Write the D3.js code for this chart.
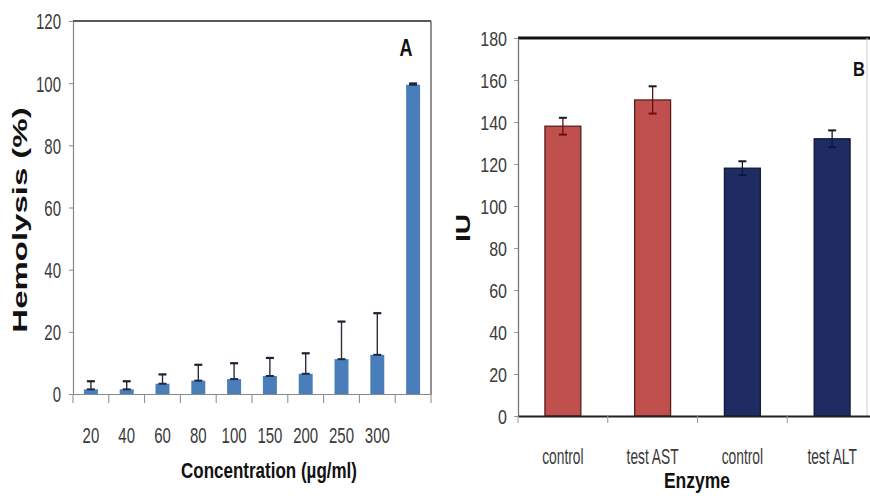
<!DOCTYPE html>
<html>
<head>
<meta charset="utf-8">
<script src="https://cdn.jsdelivr.net/npm/d3@7/dist/d3.min.js"></script>
<style>
  html, body { margin: 0; padding: 0; background: #fff; }
  svg { display: block; font-family: "Liberation Sans", Arial, sans-serif; }
</style>
</head>
<body>
<svg id="chart" width="870" height="499"></svg>
<script>
// Panel A: hemolysis vs. concentration
const concLabels = ["20", "40", "60", "80", "100", "150", "200", "250", "300", ""];
const hemolysis   = [1.5, 1.5, 3.3, 4.3, 4.8, 5.8, 6.5, 11.2, 12.6, 99.5];
const hemolysisSD = [2.6, 2.6, 3.0, 5.1, 5.1, 5.8, 6.6, 12.1, 13.4, 0.4];
const hemoTicks   = [0, 20, 40, 60, 80, 100, 120];

// Panel B: liver enzyme levels
const enzymeLabels = ["control", "test AST", "control", "test ALT"];
const enzymeGroup  = ["AST", "AST", "ALT", "ALT"];
const enzymeIU     = [138, 150.5, 118, 132];
const enzymeSD     = [4, 6.5, 3.3, 4];
const iuTicks      = [0, 20, 40, 60, 80, 100, 120, 140, 160, 180];

const svg = d3.select("#chart");

// stretched text helper: places text at (x,y), optionally rotated, scaled by sx/sy
function label(g, x, y, txt, opts) {
  const t = g.append("text")
    .attr("transform", `translate(${x},${y}) ${opts.rotate ? "rotate(-90)" : ""} scale(${opts.sx || 1},${opts.sy || 1})`)
    .attr("text-anchor", opts.anchor || "middle")
    .attr("dy", "0.35em")
    .attr("font-size", opts.size)
    .attr("font-weight", opts.bold ? "bold" : "normal")
    .attr("fill", opts.fill || "#111")
    .text(txt);
  return t;
}

/* ---------------- Panel A ---------------- */
{
  const left = 73, right = 431, top = 21, bottom = 394;
  const g = svg.append("g");
  const x = d3.scaleBand().domain(d3.range(concLabels.length)).range([left, right]).padding(0);
  const y = d3.scaleLinear().domain([0, 120]).range([bottom, top]);
  const bw = x.bandwidth() * 0.39;

  // frame
  g.append("line").attr("x1", left).attr("x2", right).attr("y1", top).attr("y2", top)
    .attr("stroke", "#222").attr("stroke-width", 1.6);
  g.append("line").attr("x1", right).attr("x2", right).attr("y1", top).attr("y2", bottom)
    .attr("stroke", "#555").attr("stroke-width", 1.3);

  // bars
  g.selectAll("rect.bar").data(hemolysis).join("rect")
    .attr("x", (d, i) => x(i) + (x.bandwidth() - bw) / 2)
    .attr("width", bw)
    .attr("y", d => y(d))
    .attr("height", d => y(0) - y(d))
    .attr("fill", "#4a7ebb");

  // error bars (upper whisker with cap, short mark at bar top)
  const eb = g.selectAll("g.err").data(hemolysis).join("g")
    .attr("transform", (d, i) => `translate(${x(i) + x.bandwidth() / 2},0)`);
  eb.append("line")
    .attr("y1", d => y(d)).attr("y2", (d, i) => y(d + hemolysisSD[i]))
    .attr("stroke", "#2a2f3a").attr("stroke-width", 1.4);
  eb.append("line")
    .attr("x1", -4).attr("x2", 4)
    .attr("y1", (d, i) => y(d + hemolysisSD[i])).attr("y2", (d, i) => y(d + hemolysisSD[i]))
    .attr("stroke", "#1c2030").attr("stroke-width", 2.2);
  eb.append("line")
    .attr("x1", -4).attr("x2", 4)
    .attr("y1", d => y(d)).attr("y2", d => y(d))
    .attr("stroke", "#1c2a4a").attr("stroke-width", 2);

  // y axis
  const ya = g.append("g").attr("transform", `translate(${left},0)`)
    .call(d3.axisLeft(y).tickValues(hemoTicks).tickSize(4).tickSizeOuter(0));
  ya.select(".domain").attr("stroke", "#888").attr("stroke-width", 1.2);
  ya.selectAll(".tick line").attr("stroke", "#888");
  ya.selectAll(".tick text")
    .attr("x", 0).attr("dy", "0.35em")
    .attr("transform", "translate(-12,0) scale(1,1.5)")
    .attr("font-size", 15).attr("fill", "#3a3a3a").attr("font-family", "Liberation Sans, Arial");

  // x axis: labels at band centres, ticks at band boundaries
  const xa = g.append("g").attr("transform", `translate(0,${bottom})`)
    .call(d3.axisBottom(x).tickFormat(i => concLabels[i]).tickSize(0).tickSizeOuter(0));
  xa.select(".domain").attr("stroke", "#888").attr("stroke-width", 1.2);
  xa.selectAll(".tick text")
    .attr("y", 0).attr("dy", "0.35em")
    .attr("transform", "translate(0,41) scale(1,1.5)")
    .attr("font-size", 15).attr("fill", "#3a3a3a").attr("font-family", "Liberation Sans, Arial");
  g.selectAll("line.xt").data(d3.range(concLabels.length + 1)).join("line")
    .attr("x1", i => i < concLabels.length ? x(i) : right)
    .attr("x2", i => i < concLabels.length ? x(i) : right)
    .attr("y1", bottom).attr("y2", bottom + 9)
    .attr("stroke", "#888").attr("stroke-width", 1);

  label(g, 269, 470, "Concentration (µg/ml)", { size: 17, bold: true, sy: 1.35 });
  label(g, 20, 220, "Hemolysis (%)", { size: 21, bold: true, rotate: true, sx: 1.57 });
  label(g, 406, 48, "A", { size: 18, bold: true, sy: 1.3 });
}

/* ---------------- Panel B ---------------- */
{
  const left = 518, right = 877, top = 38, bottom = 416;
  const g = svg.append("g");
  const x = d3.scaleBand().domain(d3.range(enzymeLabels.length)).range([left, right]).padding(0);
  const y = d3.scaleLinear().domain([0, 180]).range([bottom, top]);
  const bw = x.bandwidth() * 0.4;
  const fill = { AST: "#c0504d", ALT: "#1f2c63" };
  const edge = { AST: "#5a1e1c", ALT: "#101838" };
  const errc = { AST: "#6a0e0e", ALT: "#0c1640" };

  // frame
  g.append("line").attr("x1", left).attr("x2", 870).attr("y1", top).attr("y2", top)
    .attr("stroke", "#111").attr("stroke-width", 3);
  g.append("line").attr("x1", 867).attr("x2", 867).attr("y1", top).attr("y2", bottom)
    .attr("stroke", "#ccc").attr("stroke-width", 1);

  // bars
  g.selectAll("rect.bar").data(enzymeIU).join("rect")
    .attr("x", (d, i) => x(i) + (x.bandwidth() - bw) / 2)
    .attr("width", bw)
    .attr("y", d => y(d))
    .attr("height", d => y(0) - y(d))
    .attr("fill", (d, i) => fill[enzymeGroup[i]])
    .attr("stroke", (d, i) => edge[enzymeGroup[i]])
    .attr("stroke-width", 1.3);

  // symmetric error bars
  const eb = g.selectAll("g.err").data(enzymeIU).join("g")
    .attr("transform", (d, i) => `translate(${x(i) + x.bandwidth() / 2},0)`);
  eb.append("line")
    .attr("y1", (d, i) => y(d - enzymeSD[i])).attr("y2", (d, i) => y(d + enzymeSD[i]))
    .attr("stroke", (d, i) => errc[enzymeGroup[i]]).attr("stroke-width", 1.3);
  eb.append("line")
    .attr("x1", -4).attr("x2", 4)
    .attr("y1", (d, i) => y(d + enzymeSD[i])).attr("y2", (d, i) => y(d + enzymeSD[i]))
    .attr("stroke", "#1a1a1a").attr("stroke-width", 2);
  eb.append("line")
    .attr("x1", -4).attr("x2", 4)
    .attr("y1", (d, i) => y(d - enzymeSD[i])).attr("y2", (d, i) => y(d - enzymeSD[i]))
    .attr("stroke", (d, i) => errc[enzymeGroup[i]]).attr("stroke-width", 2);

  // y axis
  const ya = g.append("g").attr("transform", `translate(${left},0)`)
    .call(d3.axisLeft(y).tickValues(iuTicks).tickSize(4).tickSizeOuter(0));
  ya.select(".domain").attr("stroke", "#777").attr("stroke-width", 1.3);
  ya.selectAll(".tick line").attr("stroke", "#999");
  ya.selectAll(".tick text")
    .attr("x", 0).attr("dy", "0.35em")
    .attr("transform", "translate(-11,0) scale(1,1.25)")
    .attr("font-size", 16).attr("fill", "#3a3a3a").attr("font-family", "Liberation Sans, Arial");

  // x axis
  const xa = g.append("g").attr("transform", `translate(0,${bottom})`)
    .call(d3.axisBottom(x).tickFormat(i => enzymeLabels[i]).tickSize(0).tickSizeOuter(0));
  xa.select(".domain").attr("stroke", "#222").attr("stroke-width", 2);
  xa.selectAll(".tick text")
    .attr("y", 0).attr("dy", "0.35em")
    .attr("transform", "translate(0,40) scale(0.95,1.55)")
    .attr("font-size", 14.5).attr("fill", "#3a3a3a").attr("font-family", "Liberation Sans, Arial");
  g.selectAll("line.xt").data(d3.range(enzymeLabels.length)).join("line")
    .attr("x1", i => x(i)).attr("x2", i => x(i))
    .attr("y1", bottom).attr("y2", bottom + 7)
    .attr("stroke", "#999").attr("stroke-width", 1);

  label(g, 697, 480, "Enzyme", { size: 17.5, bold: true, sy: 1.25 });
  label(g, 463, 228, "IU", { size: 20, bold: true, rotate: true, sx: 1.4 });
  label(g, 859, 69, "B", { size: 16.5, bold: true, sy: 1.25 });
}
</script>
</body>
</html>
